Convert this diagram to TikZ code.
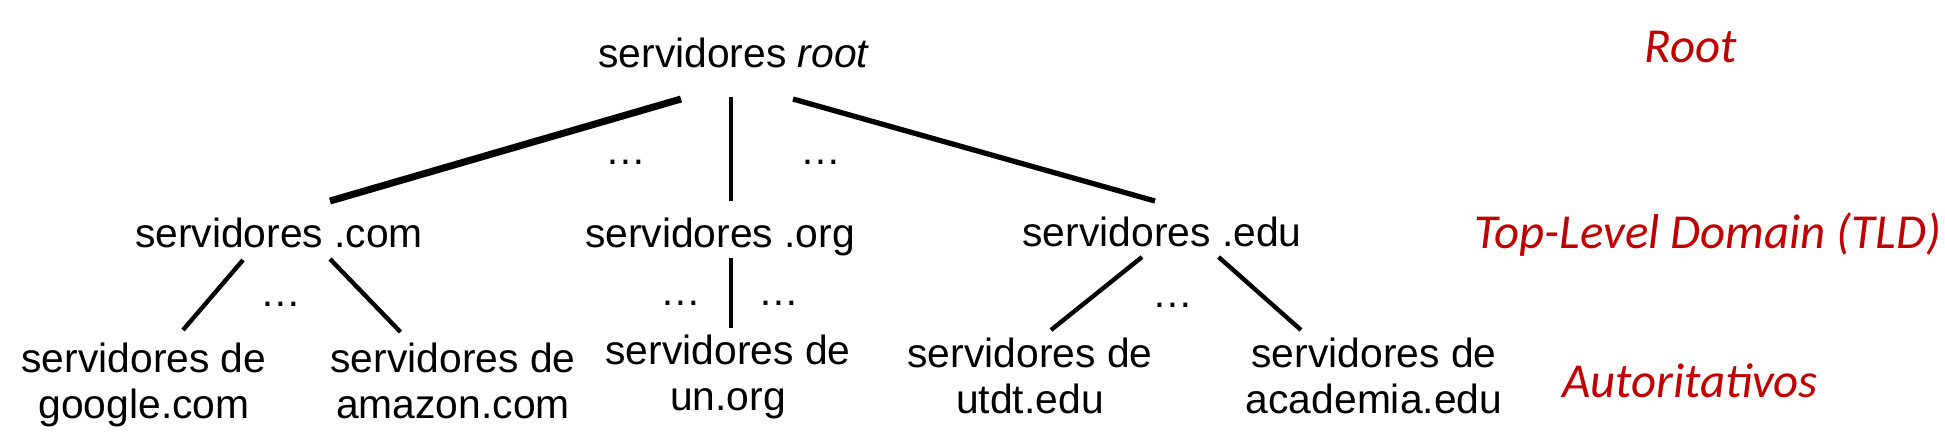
\documentclass[tikz,border=0pt]{standalone}
\usepackage{fontspec}
\setmainfont{Liberation Sans}
\newfontfamily\calibri{Carlito}
\usetikzlibrary{calc}
\definecolor{lblred}{HTML}{C00000}
\begin{document}
\begin{tikzpicture}[x=0.01cm,y=-0.01cm,
  txt/.style={inner sep=0pt,outer sep=0pt,font=\fontsize{11.6}{13.1}\selectfont},
  srv/.style={txt,anchor=base},
  leaf/.style={txt,anchor=north,align=center},
  dotsnode/.style={txt,anchor=base},
  lvl/.style={inner sep=0pt,anchor=base,text=lblred,font=\calibri\itshape\fontsize{13.9}{16}\selectfont},
  edge/.style={line width=1.25pt,line cap=butt}]
\useasboundingbox (0,0) rectangle (1945,447);
% level 0
\node[srv] (root) at (734,67) {servidores \textit{root}};
% level 1
\node[srv] (com) at (279,247) {servidores .com};
\node[srv] (org) at (720,247) {servidores .org};
\node[srv] (edu) at (1162,246) {servidores .edu};
% level 2
\node[leaf] (google) at (144,342.5) {servidores de\\google.com};
\node[leaf] (amazon) at (453,342.5) {servidores de\\amazon.com};
\node[leaf] (un) at (728,334.5) {servidores de\\un.org};
\node[leaf] (utdt) at (1030,337.5) {servidores de\\utdt.edu};
\node[leaf] (academia) at (1374,337.5) {servidores de\\academia.edu};
% dots
\node[dotsnode] (d1) at (626,164) {…};
\node[dotsnode] (d2) at (821,164) {…};
\node[dotsnode] (d3) at (281,306) {…};
\node[dotsnode] (d4) at (681,305) {…};
\node[dotsnode] (d5) at (779,305) {…};
\node[dotsnode] (d6) at (1173,307) {…};
% level labels
\node[lvl] (lroot) at (1691,62) {Root};
\node[lvl] (ltld) at (1708,248) {Top-Level Domain (TLD)};
\node[lvl] (laut) at (1690,397) {Autoritativos};
% connectors
\draw[edge,line width=2pt] ($(root.base)+(-53,32)$) -- ($(com.base)+(51,-46)$);
\draw[edge,line width=1.4pt] ($(root.base)+(-3,30)$) -- ($(org.base)+(11,-46)$);
\draw[edge,line width=1.5pt] ($(root.base)+(59,32)$) -- ($(edu.base)+(-7,-45)$);
\draw[edge] ($(com.base)+(-36,13)$) -- ($(google.north)+(39,-12.5)$);
\draw[edge] ($(com.base)+(51,12)$) -- ($(amazon.north)+(-52.5,-10.5)$);
\draw[edge] ($(org.base)+(11,11)$) -- ($(un.north)+(3,-6.5)$);
\draw[edge] ($(edu.base)+(-20,11)$) -- ($(utdt.north)+(21,-7.5)$);
\draw[edge] ($(edu.base)+(56.6,11)$) -- ($(academia.north)+(-73,-7.5)$);
\end{tikzpicture}
\end{document}
